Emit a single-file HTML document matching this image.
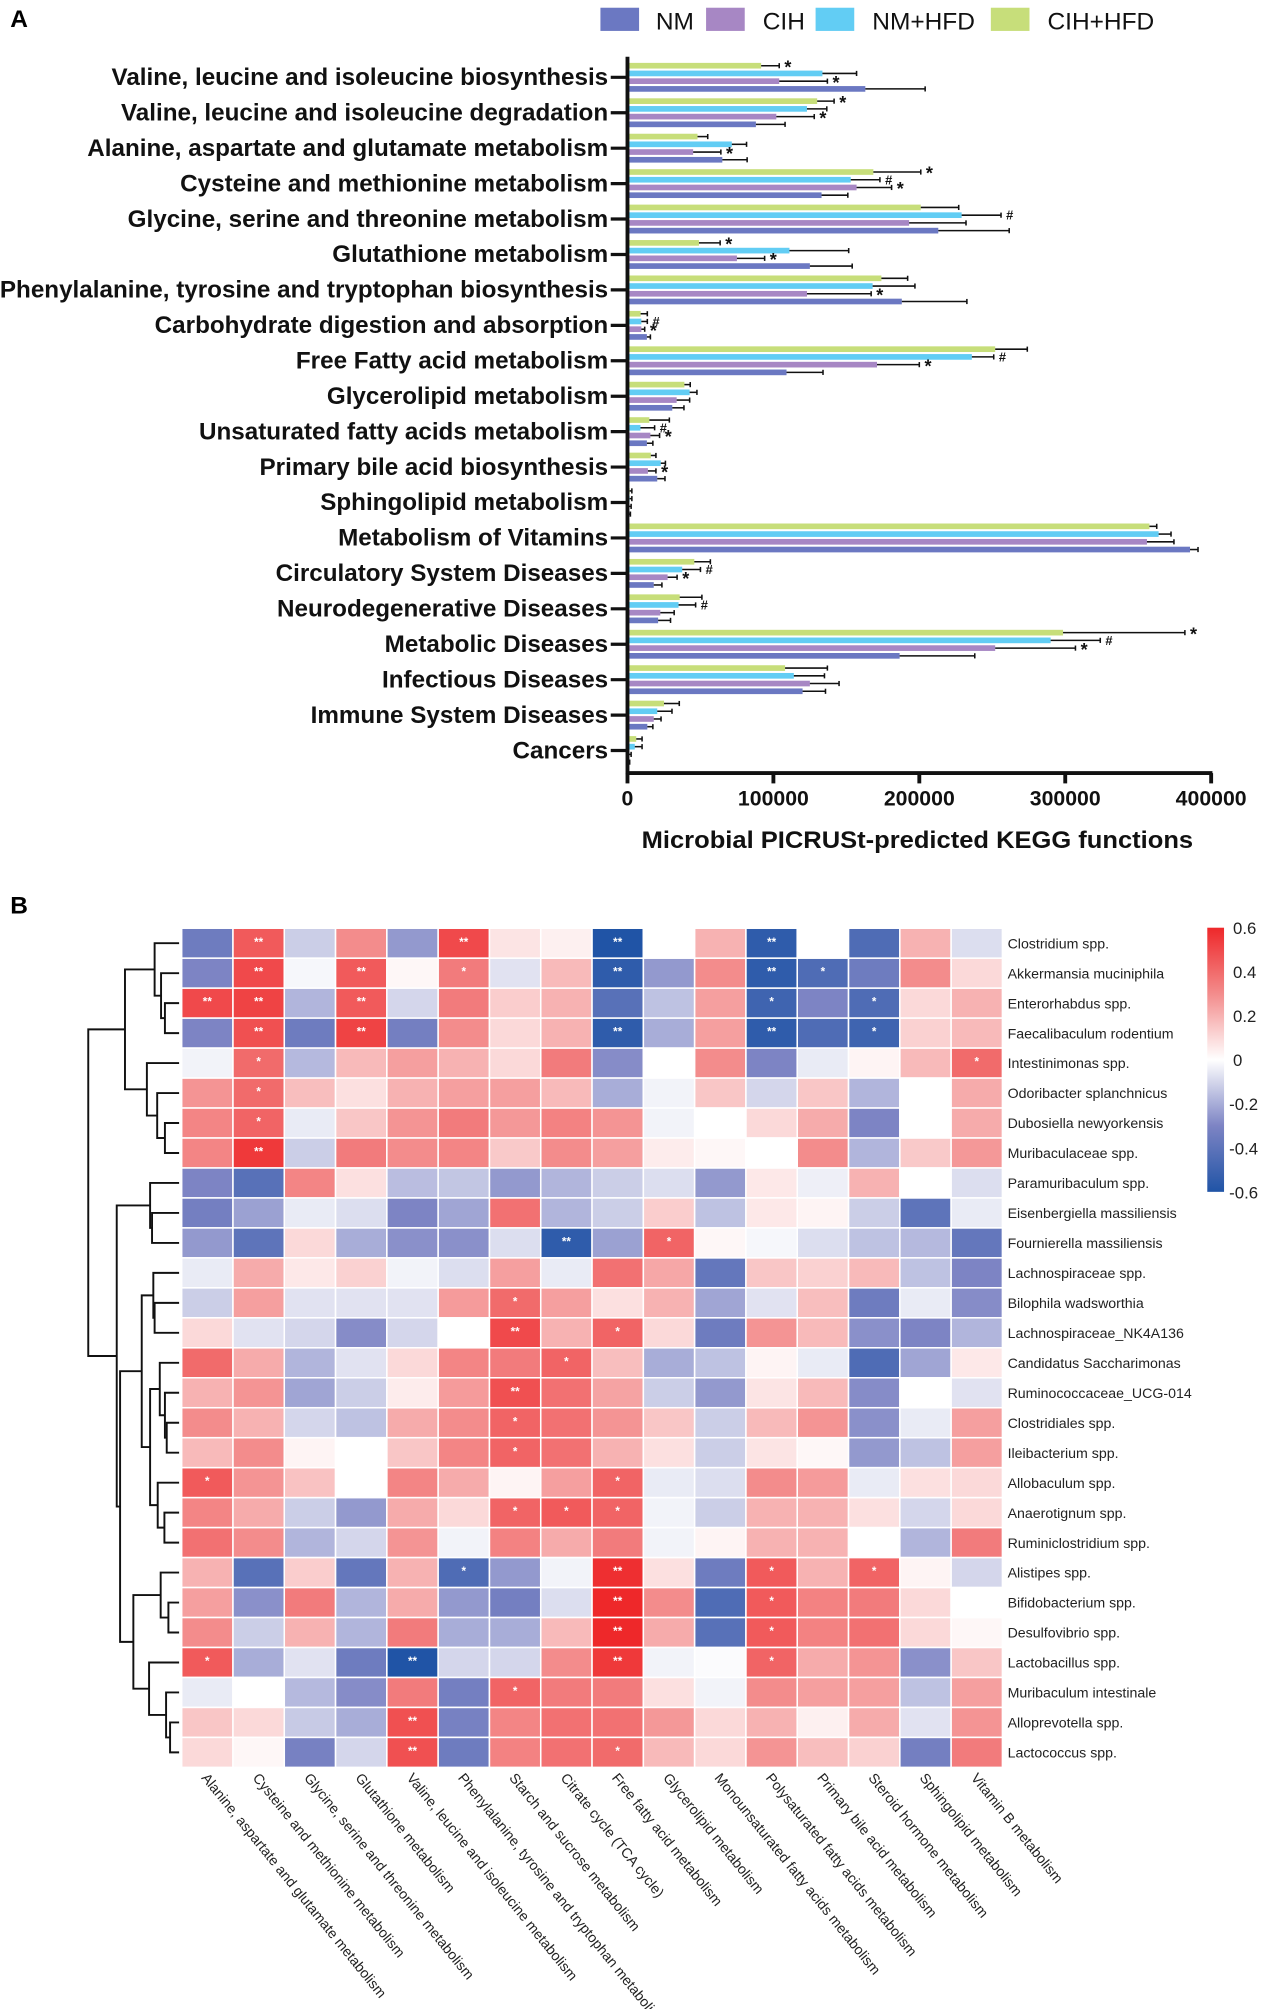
<!DOCTYPE html>
<html><head><meta charset="utf-8"><style>
html,body{margin:0;padding:0;background:#fff;}
svg{display:block;font-family:"Liberation Sans",Arial,sans-serif;}
</style></head><body>
<svg id="fig" width="1273" height="2009" viewBox="0 0 988 1559.2" preserveAspectRatio="none" xmlns="http://www.w3.org/2000/svg">
<g id="panelA"></g>
<g id="panelB"></g>
</svg>
<script>
// ===== Panel A data =====
const categories = ["Valine, leucine and isoleucine biosynthesis","Valine, leucine and isoleucine degradation","Alanine, aspartate and glutamate metabolism","Cysteine and methionine metabolism","Glycine, serine and threonine metabolism","Glutathione metabolism","Phenylalanine, tyrosine and tryptophan biosynthesis","Carbohydrate digestion and absorption","Free Fatty acid metabolism","Glycerolipid metabolism","Unsaturated fatty acids metabolism","Primary bile acid biosynthesis","Sphingolipid metabolism","Metabolism of Vitamins","Circulatory System Diseases","Neurodegenerative Diseases","Metabolic Diseases","Infectious Diseases","Immune System Diseases","Cancers"];
const seriesNames = ["CIH+HFD","NM+HFD","CIH","NM"];
const cihHfd = [91600,130000,48000,168500,201000,49000,174000,9000,252000,39000,15000,16000,1500,357700,45800,35800,298500,108000,25000,6000];
const cihHfdErr = [104000,141600,55000,201000,227000,63500,192000,13600,274000,43000,28700,19500,3000,362700,56800,51000,382000,137000,35500,10000];
const nmHfd = [133600,123000,71500,153000,229000,111000,168000,9500,236000,42600,8900,22800,1500,364000,37500,35000,290000,114000,20400,5000];
const nmHfdErr = [157000,136600,81600,173000,256000,151600,197000,13600,251000,47600,18600,26000,3000,372500,50000,46700,324000,135000,30500,10000];
const cih = [104000,102000,45000,157000,193000,75000,123000,9500,171000,33700,15700,14000,1200,356000,27500,22500,252000,125000,18000,1000];
const cihErr = [137000,128000,64000,181000,232000,94000,167000,11800,200000,42600,22000,19500,2500,374500,34000,32000,307000,145000,23000,2500];
const nm = [163000,88000,65000,133000,213000,125000,188000,13300,109000,30700,13300,20400,1000,385500,18000,21000,186500,120000,13600,500];
const nmErr = [204000,108000,82000,151000,261600,154000,232600,15700,134000,38700,17400,25700,2000,391000,23600,29500,238000,135700,17400,1500];
const sigCihHfd = ["*","*","","*","","*","","","","","","","","","","","*","","",""];
const sigNmHfd = ["","","","#","#","","","#","#","","#","","","","#","#","#","","",""];
const sigCih = ["*","*","*","*","","*","*","*","*","","*","*","","","*","","*","","",""];
const xTicks = [0,100000,200000,300000,400000];

// ===== Panel B data =====
const taxa = ["Clostridium spp.","Akkermansia muciniphila","Enterorhabdus spp.","Faecalibaculum rodentium","Intestinimonas spp.","Odoribacter splanchnicus","Dubosiella newyorkensis","Muribaculaceae spp.","Paramuribaculum spp.","Eisenbergiella massiliensis","Fournierella massiliensis","Lachnospiraceae spp.","Bilophila wadsworthia","Lachnospiraceae_NK4A136","Candidatus Saccharimonas","Ruminococcaceae_UCG-014","Clostridiales spp.","Ileibacterium spp.","Allobaculum spp.","Anaerotignum spp.","Ruminiclostridium spp.","Alistipes spp.","Bifidobacterium spp.","Desulfovibrio spp.","Lactobacillus spp.","Muribaculum intestinale","Alloprevotella spp.","Lactococcus spp."];
const pathways = ["Alanine, aspartate and glutamate metabolism","Cysteine and methionine metabolism","Glycine, serine and threonine metabolism","Glutathione metabolism","Valine, leucine and isoleucine metabolism","Phenylalanine, tyrosine and tryptophan metabolism","Starch and sucrose metabolism","Citrate cycle (TCA cycle)","Free fatty acid metabolism","Glycerolipid metabolism","Monounsaturated fatty acids metabolism","Polysaturated fatty acids metabolism","Primary bile acid metabolism","Steroid hormone metabolism","Sphingolipid metabolism","Vitamin B metabolism"];
const corr = [
[-0.35,0.45,-0.12,0.3,-0.25,0.5,0.07,0.04,-0.6,0.0,0.2,-0.55,0.0,-0.45,0.2,-0.08],
[-0.3,0.5,-0.02,0.45,0.02,0.35,-0.07,0.18,-0.55,-0.25,0.3,-0.55,-0.45,-0.35,0.3,0.1],
[0.5,0.52,-0.18,0.45,-0.1,0.35,0.13,0.2,-0.42,-0.15,0.25,-0.5,-0.3,-0.45,0.1,0.2],
[-0.3,0.48,-0.35,0.52,-0.33,0.3,0.1,0.2,-0.55,-0.2,0.25,-0.55,-0.45,-0.5,0.12,0.18],
[-0.03,0.4,-0.17,0.18,0.25,0.2,0.1,0.35,-0.28,0.0,0.3,-0.3,-0.05,0.03,0.18,0.4],
[0.28,0.4,0.17,0.08,0.2,0.25,0.25,0.18,-0.2,-0.03,0.15,-0.1,0.15,-0.18,0.0,0.22],
[0.32,0.42,-0.05,0.15,0.28,0.35,0.27,0.33,0.28,-0.03,0.0,0.1,0.22,-0.3,0.0,0.22],
[0.32,0.55,-0.12,0.35,0.3,0.32,0.14,0.3,0.25,0.05,0.02,0.0,0.3,-0.18,0.14,0.27],
[-0.3,-0.42,0.32,0.08,-0.16,-0.14,-0.25,-0.18,-0.12,-0.08,-0.25,0.06,-0.04,0.2,0.0,-0.08],
[-0.33,-0.23,-0.05,-0.08,-0.3,-0.22,0.38,-0.18,-0.12,0.13,-0.15,0.06,0.03,-0.12,-0.4,-0.05],
[-0.25,-0.4,0.1,-0.2,-0.27,-0.27,-0.08,-0.55,-0.23,0.42,0.02,-0.02,-0.08,-0.15,-0.17,-0.38],
[-0.05,0.22,0.06,0.12,-0.03,-0.08,0.25,-0.05,0.38,0.23,-0.38,0.15,0.12,0.18,-0.15,-0.3],
[-0.12,0.25,-0.07,-0.07,-0.07,0.26,0.4,0.25,0.08,0.2,-0.22,-0.07,0.17,-0.35,-0.05,-0.28],
[0.1,-0.07,-0.1,-0.28,-0.1,0.0,0.5,0.2,0.42,0.1,-0.35,0.28,0.18,-0.27,-0.3,-0.18],
[0.4,0.22,-0.18,-0.07,0.1,0.32,0.35,0.42,0.17,-0.2,-0.15,0.03,-0.05,-0.45,-0.22,0.06],
[0.2,0.28,-0.22,-0.12,0.05,0.26,0.48,0.38,0.24,-0.12,-0.25,0.07,0.18,-0.28,0.0,-0.07],
[0.3,0.2,-0.1,-0.15,0.22,0.3,0.42,0.38,0.28,0.15,-0.12,0.18,0.28,-0.27,-0.05,0.25],
[0.18,0.3,0.03,0.0,0.15,0.32,0.42,0.38,0.2,0.08,-0.12,0.07,0.02,-0.25,-0.15,0.25],
[0.45,0.28,0.16,0.0,0.32,0.22,0.03,0.25,0.42,-0.05,-0.08,0.3,0.26,-0.05,0.08,0.1],
[0.32,0.22,-0.12,-0.25,0.22,0.1,0.42,0.45,0.42,-0.03,-0.12,0.2,0.2,0.08,-0.1,0.1],
[0.38,0.3,-0.18,-0.1,0.28,-0.03,0.33,0.22,0.35,-0.03,0.03,0.2,0.2,0.0,-0.18,0.35],
[0.2,-0.42,0.13,-0.38,0.2,-0.45,-0.25,-0.03,0.58,0.08,-0.35,0.45,0.2,0.42,0.03,-0.1],
[0.25,-0.27,0.35,-0.18,0.22,-0.25,-0.33,-0.08,0.6,0.3,-0.45,0.45,0.33,0.35,0.1,0.0],
[0.3,-0.12,0.2,-0.18,0.35,-0.2,-0.2,0.18,0.6,0.22,-0.42,0.45,0.33,0.38,0.1,0.02],
[0.45,-0.2,-0.07,-0.35,-0.6,-0.1,-0.1,0.3,0.55,-0.03,-0.01,0.42,0.22,0.28,-0.27,0.15],
[-0.05,0.0,-0.17,-0.28,0.35,-0.33,0.42,0.35,0.35,0.08,-0.03,0.3,0.25,0.25,-0.15,0.25],
[0.15,0.1,-0.13,-0.2,0.48,-0.32,0.32,0.38,0.38,0.27,0.1,0.2,0.04,0.22,-0.07,0.28],
[0.1,0.02,-0.32,-0.1,0.48,-0.35,0.33,0.38,0.4,0.18,0.1,0.28,0.17,0.12,-0.33,0.35]];
const stars = [
["","**","","","","**","","","**","","","**","","","",""],
["","**","","**","","*","","","**","","","**","*","","",""],
["**","**","","**","","","","","","","","*","","*","",""],
["","**","","**","","","","","**","","","**","","*","",""],
["","*","","","","","","","","","","","","","","*"],
["","*","","","","","","","","","","","","","",""],
["","*","","","","","","","","","","","","","",""],
["","**","","","","","","","","","","","","","",""],
["","","","","","","","","","","","","","","",""],
["","","","","","","","","","","","","","","",""],
["","","","","","","","**","","*","","","","","",""],
["","","","","","","","","","","","","","","",""],
["","","","","","","*","","","","","","","","",""],
["","","","","","","**","","*","","","","","","",""],
["","","","","","","","*","","","","","","","",""],
["","","","","","","**","","","","","","","","",""],
["","","","","","","*","","","","","","","","",""],
["","","","","","","*","","","","","","","","",""],
["*","","","","","","","","*","","","","","","",""],
["","","","","","","*","*","*","","","","","","",""],
["","","","","","","","","","","","","","","",""],
["","","","","","*","","","**","","","*","","*","",""],
["","","","","","","","","**","","","*","","","",""],
["","","","","","","","","**","","","*","","","",""],
["*","","","","**","","","","**","","","*","","","",""],
["","","","","","","*","","","","","","","","",""],
["","","","","**","","","","","","","","","","",""],
["","","","","**","","","","*","","","","","","",""]];
const cbTicks = [0.6,0.4,0.2,0,-0.2,-0.4,-0.6];

const NS="http://www.w3.org/2000/svg";
function mk(parent,tag,attrs,text){const e=document.createElementNS(NS,tag);for(const k in attrs)e.setAttribute(k,attrs[k]);if(text!==undefined)e.textContent=text;parent.appendChild(e);return e;}

// ===== Panel A render =====
const A=document.getElementById('panelA');
const x0=487,x1=940,vmax=400000;
const xs=v=>x0+(v/vmax)*(x1-x0);
const yc=i=>60+i*27.5;
let t=mk(A,'text',{x:8,y:21,'font-size':19,'font-weight':'bold'},'A');


const legendItems=[["NM","#6b78c2",466,509],["CIH","#a787c4",548,592],["NM+HFD","#62cdf4",633,677],["CIH+HFD","#c7de7a",769,813]];
legendItems.forEach(l=>{
  const g=mk(A,'g',{});
  
  
  mk(g,'rect',{x:l[2],y:6,width:30,height:18,fill:l[1]});
  mk(g,'text',{x:l[3],y:23,'font-size':19,fill:'#111'},l[0]);
});
const colors=["#c7de7a","#62cdf4","#a787c4","#6b78c2"];
const vals=[cihHfd,nmHfd,cih,nm], errs=[cihHfdErr,nmHfdErr,cihErr,nmErr], sigs=[sigCihHfd,sigNmHfd,sigCih,null];
const offs=[-9,-3,3,9];
categories.forEach((c,i)=>{
  const y=yc(i);
  const lab=mk(A,'text',{x:472,y:y+6,'font-size':18.8,'font-weight':'bold','text-anchor':'end',fill:'#111'},c);
  
  
  mk(A,'line',{x1:474,x2:487,y1:y,y2:y,stroke:'#111','stroke-width':2.5});
  for(let s=0;s<4;s++){
    const by=y+offs[s];
    const r=mk(A,'rect',{x:x0+1,y:by-2.2,width:Math.max(0.5,xs(vals[s][i])-x0-1),height:4.4,fill:colors[s]});
    
    
    const ex=xs(errs[s][i]);
    mk(A,'line',{x1:xs(vals[s][i]),x2:ex,y1:by,y2:by,stroke:'#111','stroke-width':1.2});
    mk(A,'line',{x1:ex,x2:ex,y1:by-2,y2:by+2,stroke:'#111','stroke-width':1.2});
    if(sigs[s]&&sigs[s][i]){
      const st=mk(A,'text',{x:ex+4,y:by+(sigs[s][i]=='*'?6:3.5),'font-size':sigs[s][i]=='*'?14:10,'font-weight':'bold',fill:'#111'},sigs[s][i]);
      
      
    }
  }
});
mk(A,'line',{x1:487,x2:487,y1:44,y2:601,stroke:'#111','stroke-width':3});
mk(A,'line',{x1:486,x2:941,y1:600,y2:600,stroke:'#111','stroke-width':3});
xTicks.forEach(v=>{
  const x=xs(v);
  mk(A,'line',{x1:x,x2:x,y1:600,y2:608,stroke:'#111','stroke-width':3});
  const tl=mk(A,'text',{x:x,y:625,'font-size':16.5,'font-weight':'bold','text-anchor':'middle',fill:'#111'},String(v));
  
  
});
t=mk(A,'text',{x:712,y:658,'font-size':18.5,'font-weight':'bold','text-anchor':'middle',fill:'#111'},'Microbial PICRUSt-predicted KEGG functions');


t.setAttribute('textLength','428');t.setAttribute('lengthAdjust','spacingAndGlyphs');

// ===== Panel B render =====
const B=document.getElementById('panelB');
t=mk(B,'text',{x:8,y:709,'font-size':19,'font-weight':'bold'},'B');


const hx0=141,cw=(778-141)/16,hy0=720.4,rh=23.26;
function lerp(a,b,t){return a.map((v,k)=>Math.round(v+(b[k]-v)*t));}
function color(v){
  const W=[255,255,255],R1=[243,140,140],R2=[238,40,42],B1=[125,132,196],B2=[32,84,166];
  if(v>=0){return v<=0.3?lerp(W,R1,v/0.3):lerp(R1,R2,Math.min(1,(v-0.3)/0.3));}
  const a=-v;return a<=0.3?lerp(W,B1,a/0.3):lerp(B1,B2,Math.min(1,(a-0.3)/0.3));
}
corr.forEach((row,r)=>{
  row.forEach((v,c)=>{
    const cl=color(v);
    const cell=mk(B,'rect',{x:hx0+c*cw,y:hy0+r*rh,width:cw,height:rh,fill:`rgb(${cl})`,stroke:'#fff','stroke-width':1.2});
    
    
    if(stars[r][c]){
      const s=mk(B,'text',{x:hx0+c*cw+cw/2,y:hy0+r*rh+rh/2+2,'font-size':9,'font-weight':'bold','text-anchor':'middle',fill:'#fff'},stars[r][c]);
      
      
    }
  });
  const lab=mk(B,'text',{x:782,y:hy0+r*rh+rh/2+4,'font-size':11,fill:'#222'},taxa[r]);
  
  
});
pathways.forEach((p,c)=>{
  const x=hx0+c*cw+cw/2-5,y=1380;
  const lab=mk(B,'text',{x:x,y:y,'font-size':11,fill:'#222',transform:`rotate(51 ${x} ${y})`},p);
  
  
});
// colorbar
const defs=mk(B,'defs',{});
const grad=mk(defs,'linearGradient',{id:'cbg',x1:0,y1:0,x2:0,y2:1});
for(let k=0;k<=12;k++){const v=0.6-k*0.1;mk(grad,'stop',{offset:(k/12),'stop-color':`rgb(${color(v)})`});}
const cb=mk(B,'rect',{x:937,y:720,width:13,height:205,fill:'url(#cbg)'});


cbTicks.forEach(v=>{
  const y=720+(0.6-v)/1.2*205;
  const tl=mk(B,'text',{x:v<0?954:957,y:y+5,'font-size':13,fill:'#222'},String(v));
  
  
});
// dendrogram
const rowY=i=>hy0+i*rh+rh/2;
const leafX=139;
function L(i){return {y:rowY(i),x:leafX};}
function N(a,b,h){mk(B,'path',{d:`M${a.x},${a.y}H${h}V${b.y}H${b.x}`,fill:'none',stroke:'#111','stroke-width':1.5});return {x:h,y:(a.y+b.y)/2};}
const cA=N(L(0),N(L(1),N(L(2),L(3),128),125),120);
const cB=N(L(4),N(L(5),N(L(6),L(7),128),122),114);
const cAB=N(cA,cB,97);
const cC=N(L(8),N(L(9),L(10),118),116.5);
const cD=N(L(11),N(L(12),L(13),120),119);
const cE=N(L(14),N(L(15),N(L(16),L(17),129.4),128),124);
const cF=N(L(18),N(L(19),L(20),127.6),122.4);
const cDEF=N(cD,N(cE,cF,116.5),110);
const cG=N(L(21),N(L(22),L(23),130.7),124.7);
const cH=N(L(24),N(L(25),N(L(26),L(27),132),128.9),115.7);
const cRest=N(cC,N(cDEF,N(cG,cH,103.5),93.2),90.6);
N(cAB,cRest,68.5);
</script>
</body></html>
